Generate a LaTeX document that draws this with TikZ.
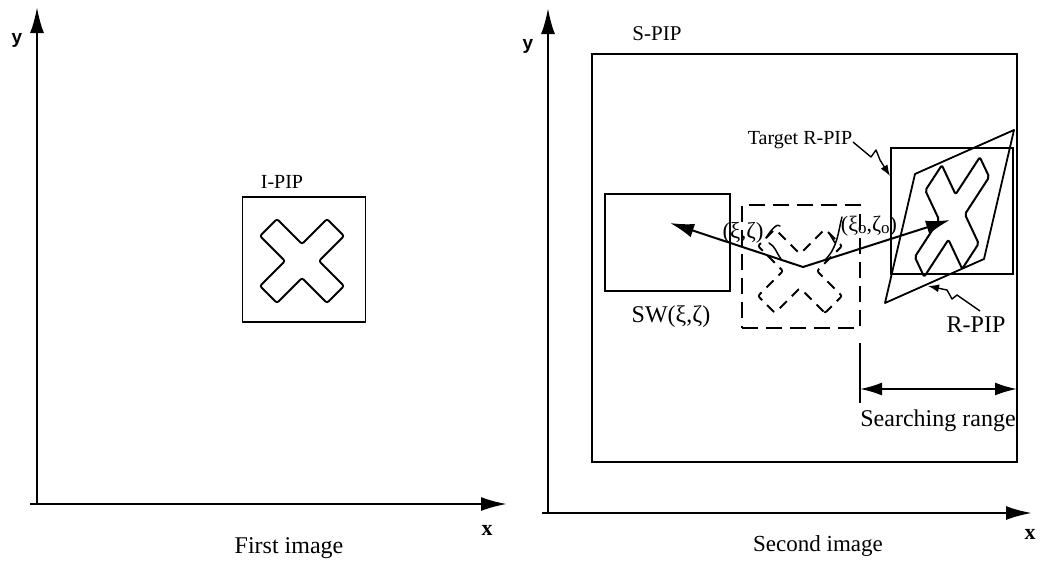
\documentclass[tikz,border=0pt]{standalone}
\usepackage{fontspec}
\setmainfont{Liberation Serif}
\newfontfamily\axsans{Liberation Sans}
\usetikzlibrary{arrows.meta}
\begin{document}
\begin{tikzpicture}[x=1pt,y=-1pt,
  ln/.style={line width=1.8pt,line join=round},
  axis/.style={line width=2.4pt,-{Latex[length=26pt,width=14pt]}},
  bigarrow/.style={line width=2pt,-{Latex[length=24pt,width=14pt]}},
  rangearrow/.style={line width=2pt,{Latex[length=22pt,width=13pt]}-{Latex[length=22pt,width=13pt]}},
  lead/.style={line width=1.4pt,line join=round,-{Latex[length=11pt,width=8pt]}},
  tick/.style={line width=1.5pt,line join=round,line cap=round},
  box/.style={draw,line width=1.8pt,inner sep=0pt,outer sep=0pt},
  dbox/.style={box,dash pattern=on 16pt off 8pt},
  lab/.style={font=\fontsize{20}{24}\selectfont,inner sep=0pt},
  biglab/.style={font=\fontsize{24}{28}\selectfont,inner sep=0pt},
  axly/.style={font=\axsans\fontsize{19}{22}\selectfont\bfseries,inner sep=0pt},
  axlx/.style={font=\fontsize{22}{24}\selectfont\bfseries,inner sep=0pt},
  xcross/.pic={\draw[pic actions,rounded corners=2pt] (25,42)--(0,17)--(-25,42)--(-42,25)--(-17,0)--(-42,-25)--(-25,-42)--(0,-17)--(25,-42)--(42,-25)--(17,0)--(42,25)--cycle;}
]
\useasboundingbox (0,0) rectangle (1042,566);

% ---------- left panel ----------
\coordinate (lyb) at (37,504);
\coordinate (lyt) at (37,7);
\coordinate (lxl) at (30,504);
\coordinate (lxr) at (507,504);
\draw[axis] (lyb) -- (lyt);
\draw[axis] (lxl) -- (lxr);
\node[axly] (ly) at (17,40) {y};
\node[axlx] (lx) at (487,530) {x};
\node[biglab] (first) at (289,548) {First image};

\node[box,minimum width=123,minimum height=125] (ipip) at (304,259.5) {};
\node[lab] (ipiplab) at (282,182) {I-PIP};
\pic[ln] at (302,261) {xcross};

% ---------- right panel ----------
\coordinate (ryb) at (548,513);
\coordinate (ryt) at (548,8);
\coordinate (rxl) at (542,513);
\coordinate (rxr) at (1032,513);
\draw[axis] (ryb) -- (ryt);
\draw[axis] (rxl) -- (rxr);
\node[axly] (ry) at (528,46) {y};
\node[axlx] (rx) at (1030,534) {x};
\node[biglab,font=\fontsize{23}{28}\selectfont] (second) at (818,546) {Second image};

% S-PIP
\node[box,minimum width=425,minimum height=408] (spip) at (804.5,258) {};
\node[lab,font=\fontsize{21}{24}\selectfont] (spiplab) at (657,34) {S-PIP};

% SW box
\node[box,minimum width=125,minimum height=97] (sw) at (667.5,242.5) {};
\node[lab,font=\fontsize{24}{28}\selectfont] (swlab) at (671,317) {SW(ξ,ζ)};

% dashed box and dashed cross
\node[dbox,minimum width=118,minimum height=123] (dbx) at (801,266.5) {};
\pic[ln,dash pattern=on 10pt off 7pt] at (800,271) {xcross};

% target R-PIP box
\node[box,minimum width=122,minimum height=126] (tbox) at (952,211) {};
\node[lab] (tlab) at (800,140) {Target R-PIP};

% R-PIP parallelogram
\coordinate (p1) at (1014,130);
\coordinate (p2) at (915,174);
\coordinate (p3) at (885,303);
\coordinate (p4) at (984,259);
\draw[ln] (p1) -- (p2) -- (p3) -- (p4) -- cycle;
\node[lab,font=\fontsize{24}{28}\selectfont] (rlab) at (976,325) {R-PIP};

% skewed cross
\begin{scope}[x={(0.76pt,0.16pt)},y={(-0.21pt,-1.33pt)},shift={(952pt,-217pt)}]
  \pic[line width=2pt,line join=round] at (0,0) {xcross};
\end{scope}

% displacement arrows
\coordinate (v) at (803,267);
\coordinate (swt) at (670,223);
\coordinate (tt) at (950,220);
\draw[bigarrow] (v) -- (swt);
\draw[bigarrow] (v) -- (tt);

% labels of vectors
\node[lab,font=\fontsize{23}{26}\selectfont] (xz) at (743,233) {(ξ,ζ)};
\node[lab,font=\fontsize{22}{26}\selectfont] (xz0) at (869,226) {(ξ\raisebox{-0.25ex}{\fontsize{17}{17}\selectfont o},ζ\raisebox{-0.25ex}{\fontsize{17}{17}\selectfont o})};
\coordinate (xzA) at (766,238);
\coordinate (xzB) at (781,259);
\draw[tick] (xzA) .. controls (772,228) and (778,223) .. (780,226);
\draw[tick] (769,243) .. controls (775,246) and (776,252) .. (xzB);
\coordinate (xz0A) at (842,217);
\coordinate (xz0B) at (826,259);
\draw[tick] (829,233) -- (835,243);
\draw[tick] (xz0A) .. controls (838,232) and (838,246) .. (xz0B);

% leaders
\coordinate (tl1) at (853,142);
\coordinate (tl2) at (890,176);
\draw[lead] (tl1) -- (871,157) -- (876,150) -- (880,160) -- (tl2);
\coordinate (rl1) at (980,311);
\coordinate (rl2) at (928,286);
\draw[lead] (rl1) -- (957,295) -- (952,299) -- (947,290) -- (rl2);

% searching range
\coordinate (sr1) at (860,343);
\coordinate (sr2) at (860,403);
\draw[ln] (sr1) -- (sr2);
\coordinate (sra) at (860,389);
\coordinate (srb) at (1017,389);
\draw[rangearrow] (sra) -- (srb);
\node[biglab] (srlab) at (938,421) {Searching range};

\end{tikzpicture}
\end{document}
